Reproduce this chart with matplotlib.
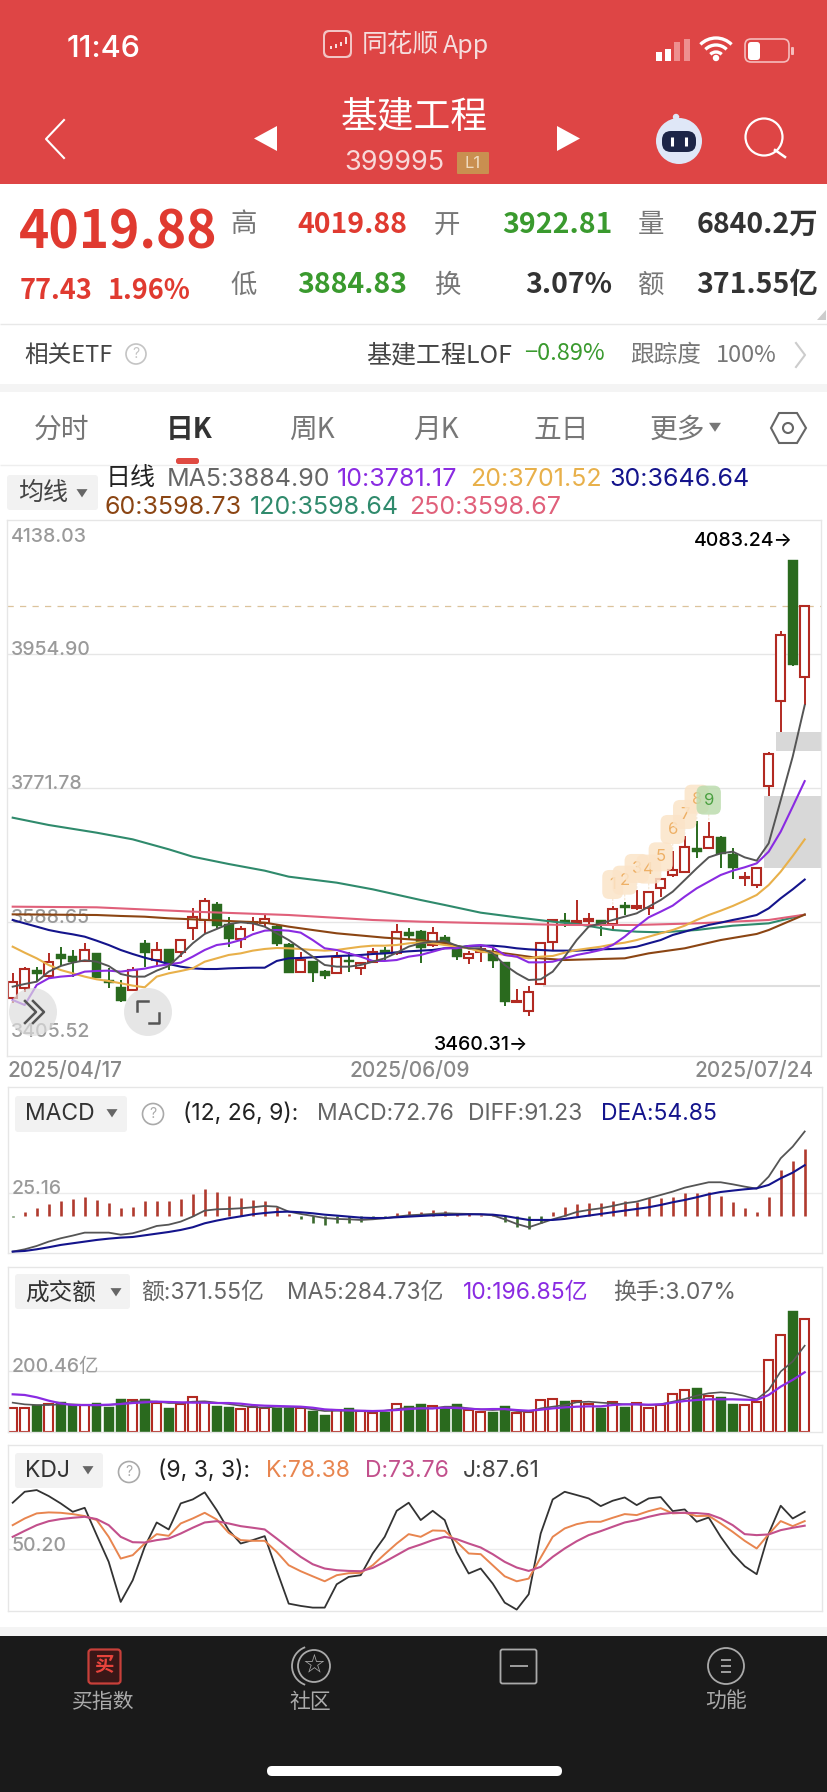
import numpy as np
import matplotlib
matplotlib.use('Agg')
import matplotlib.pyplot as plt
from matplotlib.patches import Rectangle, FancyBboxPatch, Circle, Polygon, Arc

plt.rcParams['font.family'] = ['Inter', 'Noto Sans CJK SC', 'DejaVu Sans']
NOTO = ['Noto Sans CJK SC', 'DejaVu Sans']

# K线数据
opens = [3484.4, 3498, 3523, 3514.9, 3544.9, 3542.7, 3535.4, 3545.8, 3509.4, 3499.4, 3495.7, 3559.5, 3536.7, 3551.8, 3547.2, 3580, 3591.4,
         3613.2, 3585.9, 3565, 3586.8, 3587.8, 3583.2, 3558.6, 3519.9, 3535.4, 3521.2, 3518.5, 3536.3, 3525.3, 3534.4, 3550.4, 3546.7, 3575.4,
         3576.8, 3557.2, 3567.7, 3554.9, 3539, 3547.7, 3548.1, 3533.5, 3478.9, 3467.1, 3503.9, 3560.9, 3591.4, 3587.3, 3589.6, 3591.4, 3585.9,
         3611.9, 3607.3, 3607.3, 3634.7, 3652.9, 3657, 3689.8, 3689.3, 3705.3, 3681.1, 3648.8, 3639.2, 3775, 3890.2, 4083.24, 3922.81]
closes = [3506.2, 3524, 3517.1, 3534.4, 3538.1, 3534, 3550.4, 3511.7, 3504.8, 3480.7, 3523, 3545.8, 3550.4, 3529.9, 3564, 3596, 3617.4,
          3583.6, 3565.4, 3578.6, 3589.1, 3592.3, 3558.6, 3518.5, 3536.7, 3519.4, 3515.3, 3541.3, 3533.5, 3532.6, 3548.1, 3544.9, 3574.5, 3570,
          3553.6, 3573.2, 3559.5, 3541.3, 3544.9, 3551.3, 3535.8, 3479.8, 3481.2, 3493.5, 3560.4, 3591.4, 3586.8, 3590.5, 3593.2, 3585.5, 3606,
          3607.3, 3610.5, 3630.1, 3647, 3659.7, 3691.6, 3684.3, 3705.3, 3681.1, 3662.9, 3650.6, 3662, 3818.2, 3981.3, 3939.9, 4019.88]
highs = [3519.4, 3527.6, 3527.6, 3545.8, 3554.9, 3550.4, 3560.4, 3545.8, 3525.4, 3509.4, 3527.6, 3564, 3561.8, 3551.8, 3565, 3607.3, 3621,
         3615.5, 3595, 3583.2, 3596, 3599.6, 3584.6, 3559.5, 3547.7, 3535.8, 3523, 3548.1, 3548.1, 3534.4, 3552.7, 3554, 3585.9, 3580,
         3577.7, 3582.3, 3570.9, 3556.3, 3549, 3557.2, 3557.2, 3534.4, 3496.6, 3501.7, 3560.4, 3591.4, 3600.5, 3618.7, 3600.5, 3591.4, 3610.5,
         3616.4, 3632.4, 3631.5, 3648.3, 3685.7, 3706.2, 3727.1, 3725.8, 3706.6, 3689.3, 3657.4, 3663.4, 3821.4, 3986.8, 4083.24, 4019.88]
lows = [3478.4, 3493.5, 3507.1, 3511.7, 3528.5, 3514, 3534.4, 3511.7, 3498, 3479.8, 3494.4, 3526.7, 3529.9, 3523, 3541.3, 3564, 3573.2,
        3580, 3554.9, 3552.7, 3576.8, 3582.3, 3556.3, 3518.5, 3519.4, 3506.2, 3510.8, 3517.6, 3519.9, 3516.2, 3533.1, 3536.7, 3543.6, 3564,
        3533.1, 3554.9, 3556.3, 3536.7, 3531.3, 3534.4, 3526.2, 3474.3, 3478.4, 3460.31, 3503.9, 3549.5, 3581.4, 3583.6, 3585.9, 3570, 3576.8,
        3598.2, 3605, 3598.7, 3622.4, 3650.6, 3656.1, 3675.7, 3688.4, 3662.4, 3647, 3638.3, 3635.6, 3761.3, 3848.8, 3939, 3884.83]

# 均线
ma5 = [3500.3, 3503.9, 3507.1, 3520.8, 3528.5, 3533.1, 3536.3, 3534.4, 3528.5, 3517.6, 3514, 3514, 3522.2, 3528.5, 3543.6, 3559.5, 3572.3,
       3579.1, 3585.9, 3588.2, 3586.8, 3582.3, 3573.2, 3564, 3552.7, 3541.3, 3529.9, 3527.6, 3527.6, 3529.9, 3534.4, 3539, 3546.7, 3555,
       3559.5, 3561.8, 3562.7, 3556.3, 3552.7, 3552.7, 3545.8, 3529.9, 3518.5, 3509.4, 3510.3, 3520.8, 3541.3, 3564, 3582.3, 3586.8, 3591.4,
       3596, 3600.5, 3609.6, 3618.7, 3630.1, 3646, 3662, 3677, 3682.5, 3684.8, 3677, 3672.5, 3696.2, 3755, 3814.6, 3884.9]
ma10 = [3482.1, 3475.2, 3502.6, 3511.7, 3514, 3515.3, 3520.8, 3521.7, 3522.2, 3520.8, 3523, 3524.9, 3528.5, 3530.8, 3533.1, 3541.3, 3550.4,
        3557.2, 3559.5, 3564, 3571.8, 3576.8, 3577.7, 3576.8, 3574.1, 3564, 3552.7, 3550.4, 3545.8, 3541.3, 3535.4, 3535.4, 3536.7, 3541.3,
        3543.6, 3548.1, 3552.7, 3552.7, 3555.9, 3557.2, 3554, 3543.6, 3541.3, 3533.5, 3533.5, 3534.4, 3539, 3543.6, 3546.7, 3550.4, 3557.2,
        3568.6, 3582.3, 3595, 3602.8, 3611, 3623.3, 3634.7, 3643.8, 3652.9, 3658.8, 3663.4, 3668.8, 3684.8, 3712.1, 3746.3, 3781.17]
ma20 = [3554.9, 3546.7, 3539, 3529.9, 3523, 3518.5, 3514, 3510.3, 3508, 3504.9, 3501.7, 3499.4, 3514, 3518.5, 3521.7, 3525.3, 3534.4,
        3539, 3543.6, 3545.8, 3549.5, 3551.8, 3553.1, 3552.7, 3551.8, 3550.4, 3549.5, 3550.4, 3552.7, 3554.9, 3556.3, 3556.3, 3557.2, 3559.5,
        3560.9, 3559.5, 3557.2, 3554.9, 3552.7, 3548.1, 3546.7, 3543.6, 3541.3, 3539, 3541.3, 3542.2, 3546.7, 3550.4, 3552.7, 3554.9, 3558.1,
        3560.4, 3564, 3568.6, 3573.2, 3577.7, 3583.6, 3591.4, 3598.2, 3604.1, 3610.5, 3617.8, 3625.6, 3639.2, 3657.4, 3678.8, 3701.52]
ma30 = [3591.4, 3586.8, 3582.3, 3577.7, 3574.5, 3571.8, 3568.6, 3563.1, 3557.2, 3550.4, 3544.9, 3539.9, 3535.8, 3531.3, 3527.6, 3525.3, 3524.4,
        3524.4, 3525.3, 3525.8, 3526.2, 3526.2, 3535.4, 3539, 3539.5, 3540.4, 3541.3, 3542.2, 3542.7, 3543.6, 3544.9, 3545.8, 3547.2, 3548.6,
        3549.5, 3550.4, 3552.7, 3553.6, 3555.9, 3556.3, 3556.3, 3554.9, 3552.7, 3551.3, 3550.4, 3549.5, 3549.5, 3549.5, 3550.4, 3551.3, 3551.8,
        3552.7, 3554.9, 3559.5, 3564, 3570.9, 3575.4, 3580, 3584.6, 3587.8, 3591.4, 3594.6, 3598.2, 3607.3, 3621, 3633.3, 3646.64]
ma60_idx = [0, 7, 9, 11, 13, 15, 18, 21, 23, 25, 27, 31, 34, 36, 38, 40, 42, 44, 46, 51, 53, 56, 59, 62, 63, 66]
ma60 = [3599.1, 3598.2, 3596.9, 3595.9, 3593.7, 3592.3, 3590, 3587.8, 3582.3, 3577.7, 3573.2, 3567.2, 3564, 3559.5, 3552.7, 3548.1, 3543.6,
        3539, 3536.7, 3539, 3545.8, 3552.7, 3564, 3572.3, 3577.7, 3598.73]
ma120_idx = [0, 3, 7, 10, 13, 15, 18, 21, 23, 27, 30, 34, 36, 39, 42, 45, 47, 50, 52, 54, 57, 60, 63, 66]
ma120 = [3731.2, 3721.2, 3710.7, 3701.6, 3688, 3677.9, 3667.9, 3658.8, 3650.6, 3642.4, 3633.3, 3618.7, 3611.9, 3601.4, 3595, 3589.1, 3585.9,
         3577.7, 3575.4, 3574.5, 3577.7, 3583.6, 3586.8, 3598.64]
ma250_idx = [0, 7, 15, 23, 30, 34, 46, 52, 57, 63, 66]
ma250 = [3609.6, 3608.7, 3602.8, 3598.2, 3591.4, 3589.1, 3584.6, 3584.6, 3586.8, 3591.4, 3598.67]

# 九转序列
td_idx = [50, 51, 52, 53, 54, 55, 56, 57, 58]
td_num = ['1', '2', '3', '4', '5', '6', '7', '8', '9']

# MACD
macd_bar = [-1.5, 4.7, 8.3, 13, 16.6, 18, 20.9, 17.3, 13.7, 8.6, 10, 16.6, 16.6, 15.8, 18.4, 23.8, 28.8, 26.3, 21.6, 19, 17.3, 16.2, 10, 2.2,
            -3.2, -7.2, -9.7, -7.9, -7.2, -6.1, -3.6, -2.5, 2.9, 5.4, 4.7, 6.5, 5.8, 2.2, 1.8, 1.4, 0.7, -6.1, -12.2, -14.4, -7.9, 4.7, 9.4,
            13, 14.4, 14.4, 16.2, 16.6, 15.5, 19, 19, 20.9, 24.5, 24.5, 26.3, 21.6, 15.1, 8.6, 4.7, 20.9, 49.7, 59.4, 72.76]
diff = [-38.5, -36, -32.4, -27.7, -24.1, -21.2, -18, -18, -18, -20.2, -18.7, -15.1, -10.8, -9.4, -6.1, -0.7, 5.8, 7.2, 7.6, 8.3, 9.4, 10.8,
        10.1, 4.7, 2.2, 0, -2.2, -3.2, -3.6, -4.3, -3.6, -2.5, -0.7, 0.7, 1.4, 2.2, 2.9, 2.5, 2.2, 1.8, 0.7, -3.6, -8.6, -12.2, -7.9, -3.6, 0,
        4.3, 6.5, 8.3, 10.8, 13.7, 15.5, 19.1, 22.7, 26.3, 30.6, 33.5, 36.4, 36.4, 34.2, 31.7, 29.5, 42.5, 62.3, 74.9, 91.23]
dea = [-38.5, -37.8, -36, -33.8, -31.3, -29.5, -27.7, -25.9, -24.5, -23.4, -22.7, -20.9, -19.1, -17.3, -15.1, -12.2, -7.9, -5, -2.5, -0.4,
       1.8, 3.2, 4.3, 4.7, 4, 2.9, 1.4, 0.4, -0.7, -1.8, -2.2, -2.2, -1.4, -0.7, 0, 0.7, 1.1, 1.4, 1.8, 1.8, 1.4, 0, -2.2, -4.3, -4.3, -4.3,
       -3.2, -1.4, 0.4, 2.2, 4, 5.8, 7.6, 9.4, 11.9, 14.8, 17.3, 20.2, 23.4, 25.9, 27.4, 28.8, 29.9, 33.5, 40.7, 46.8, 54.85]

# 成交额（亿）
amount = [79.7, 79.7, 88.6, 90.8, 99.7, 88.6, 88.6, 96.4, 80.8, 107.4, 105.2, 108.5, 94.1, 79.7, 90.8, 114.1, 97.5, 85.3, 83.1, 75.3, 83.1,
          79.7, 77.5, 77.5, 77.5, 68.7, 55.4, 72, 79.7, 68.7, 63.1, 66.5, 93, 84.2, 91.9, 86.4, 77.5, 90.8, 72, 64.2, 66.5, 84.2, 60.9, 64.2,
          106.3, 108.5, 101.9, 103, 90.8, 79.7, 99.7, 80.8, 94.1, 79.7, 88.6, 126.3, 138.4, 146.2, 119.6, 115.2, 93, 88.6, 97.5, 238.1, 319,
          400.9, 371.55]
amount_ma5 = [96.4, 90.8, 88.6, 88.6, 90.8, 90.8, 88.6, 86.4, 88.6, 93, 99.7, 101.9, 99.7, 95.2, 95.2, 99.7, 100.8, 96.4, 91.9, 86.4, 82, 79.7,
              83.1, 82, 80.8, 74.2, 68.7, 69.8, 69.8, 68.7, 66.5, 69.8, 75.3, 79.7, 77.5, 77.5, 83.1, 83.1, 77.5, 74.2, 72, 74.2, 68.7, 66.5,
              77.5, 83.1, 88.6, 97.5, 99.7, 96.4, 94.1, 90.8, 90.8, 88.6, 90.8, 99.7, 108.5, 119.6, 127.4, 130.7, 127.4, 118.5, 107.4, 138.4,
              199.4, 232.6, 284.73]
amount_ma10 = [124, 121.8, 114.1, 103, 94.1, 88.6, 88.6, 88.6, 89.7, 91.9, 95.2, 97.5, 99.7, 98.6, 97.5, 96.4, 96.4, 95.2, 95.2, 93, 88.6, 86.4,
               85.3, 84.2, 83.1, 79.7, 74.2, 72, 70.9, 69.8, 68.7, 69.8, 72, 75.3, 77.5, 77.5, 79.7, 78.6, 76.4, 74.2, 75.3, 75.3, 72, 69.8,
               73.1, 77.5, 80.8, 83.1, 84.2, 84.2, 88.6, 90.8, 90.8, 89.7, 90.8, 96.4, 101.9, 105.2, 107.4, 107.4, 107.4, 106.3, 105.2, 121.8,
               149.5, 171.7, 196.85]

# KDJ
k_line = [74.3, 81, 86.1, 87.1, 86.7, 85.4, 83.4, 79.4, 62.6, 40.8, 44.2, 55.9, 65.3, 63.6, 76, 81, 86.7, 80, 66.6, 59.3, 58.6, 58.6, 47.5,
          34.1, 28.1, 23, 18, 24.1, 26.1, 26.4, 34.1, 45.2, 55.9, 65.3, 62.6, 69, 68.6, 57.6, 45.9, 45.2, 34.1, 23, 18, 20.7, 41.8, 62.6, 71,
          75.3, 77.7, 77.7, 81.7, 85.4, 84.4, 88.4, 91.4, 86.1, 86.7, 83.4, 83.7, 76, 67.6, 58.6, 50.9, 65.3, 78.4, 73.3, 78.38]
d_line = [62.6, 68.6, 74.3, 78.3, 80.4, 81.7, 82.7, 80.4, 74.3, 62.6, 57.2, 56.9, 59.3, 60.9, 65.9, 71.7, 77, 78.3, 76, 73.3, 71.7, 70, 60.9,
          51.5, 42.5, 35.1, 30.8, 29.1, 28.4, 28.1, 31.4, 37.5, 44.2, 50.9, 54.9, 59.3, 62.6, 60.3, 55.9, 51.9, 45.2, 37.5, 31.8, 28.4, 32.5,
          42.5, 50.9, 58.2, 64.3, 68.3, 72.7, 77, 79.4, 82.7, 85.4, 86.7, 86.7, 86.4, 85.4, 81, 74.3, 65.3, 64.3, 65, 69.3, 71.7, 73.76]
j_line = [96.8, 107.8, 109.5, 103.5, 96.1, 87.7, 91.7, 64.3, 37.5, -2.7, 19, 52.5, 77, 70, 96.1, 100.1, 107.2, 89.4, 69.3, 55.9, 59.3, 63.3,
          29.1, -4.4, -6.7, -8.4, -8.4, 15, 22.4, 24.1, 45.9, 62.6, 88.7, 96.8, 79.4, 88.7, 79.4, 47.5, 25.8, 30.8, 15.7, -3.4, -10.4, 5, 65.9,
          100.1, 107.8, 104.5, 101.1, 93.4, 98.8, 102.1, 94.4, 101.1, 102.5, 88.4, 90.1, 77.7, 82, 62.6, 45.9, 33.1, 25.1, 65.9, 93.8, 81, 87.61]

price_ticks = [4138.03, 3954.90, 3771.78, 3588.65, 3405.52]
dates = ['2025/04/17', '2025/06/09', '2025/07/24']

W, H = 828, 1792
RED, GREEN = '#b22a22', '#2a6a1e'
days = np.arange(len(closes))
up = np.array(closes) >= np.array(opens)

fig = plt.figure(figsize=(W / 100, H / 100), dpi=100, facecolor='white')


def panel(x0, y0, x1, y1, ymin, ymax):
    # 按像素位置放子图，所有子图共用同一套K线间距
    ax = fig.add_axes([x0 / W, 1 - y1 / H, (x1 - x0) / W, (y1 - y0) / H])
    ax.set_xlim((x0 - 12.7) / 12, (x1 - 12.7) / 12)
    ax.set_ylim(ymin, ymax)
    ax.set_xticks([])
    ax.set_yticks([])
    for s in ax.spines.values():
        s.set_color('#e6e6e6')
        s.set_linewidth(1.0)
    return ax


def draw_bars(ax, bottoms, tops, width=0.72):
    # 红空心绿实心
    for i in days:
        if up[i]:
            ax.bar(i, tops[i] - bottoms[i], bottom=bottoms[i], width=width, facecolor='white',
                   edgecolor=RED, linewidth=1.5, zorder=2)
        else:
            ax.bar(i, tops[i] - bottoms[i], bottom=bottoms[i], width=width + 0.08, facecolor=GREEN,
                   edgecolor=GREEN, linewidth=0.3, zorder=2)


# =============================================
# 主图
# =============================================
ax = panel(7, 520, 821, 1056, 3405.52, 4138.03)
for v in price_ticks[1:-1]:
    ax.axhline(v, color='#e6e6e6', lw=1.0, zorder=0)
ax.axhline(closes[-1], color='#dcc39c', lw=0.9, ls=(0, (5, 5)), zorder=1)
ax.hlines(3501.6, 44.2, 67.3, color='#dedede', lw=1.5, zorder=0)
ax.add_patch(Rectangle((62.6, 3662.9), 6, 97.9, facecolor='#d8d8d8', edgecolor='none', zorder=1))
ax.add_patch(Rectangle((63.6, 3822.8), 5, 25.5, facecolor='#d8d8d8', edgecolor='none', zorder=1))

ax.vlines(days, lows, highs, color=[RED if u else GREEN for u in up], lw=1.4, zorder=1.5)
draw_bars(ax, np.minimum(opens, closes), np.maximum(opens, closes))

ax.plot(ma120_idx, ma120, color='#2f8a6c', lw=1.5, zorder=3)
ax.plot(ma250_idx, ma250, color='#e0607a', lw=1.5, zorder=3)
ax.plot(ma60_idx, ma60, color='#8b4513', lw=1.5, zorder=3)
ax.plot(days, ma30, color='#14148c', lw=1.5, zorder=3)
ax.plot(days, ma20, color='#e8b04a', lw=1.5, zorder=3)
ax.plot(days, ma10, color='#8a2be2', lw=1.5, zorder=3)
ax.plot(days, ma5, color='#555555', lw=1.4, zorder=3)

# 价格刻度
tick_dy = [-12, 3, 3.2, 3, 17.5]
for v, dy in zip(price_ticks, tick_dy):
    ax.annotate('%.2f' % v, xy=(0, v), xycoords=('axes fraction', 'data'), xytext=(2.5, dy), textcoords='offset points',
                color='#9a9a9a', fontsize=14, fontweight='medium', va='center', zorder=1)

# 九转序列
for i, n in zip(td_idx, td_num):
    bg, fg = ('#bcdcae', '#4aa040') if n == '9' else ('#fbe4c8', '#eeb066')
    ax.annotate(n, xy=(i, highs[i]), xytext=(0, 15.5), textcoords='offset points', ha='center', va='center',
                fontsize=12, color=fg, zorder=4,
                bbox=dict(boxstyle='round,pad=0.42', fc=bg, ec='none', alpha=0.85),
                arrowprops=dict(arrowstyle='-', color='#f6e9d8', lw=1, ls=':', shrinkA=0, shrinkB=0))

ax.annotate('4083.24→', xy=(65, 4083.24), xytext=(0, 14), textcoords='offset points', ha='right', va='center',
            fontsize=14, fontweight='medium', color='black', zorder=5)
ax.annotate('3460.31→', xy=(43, 3460.31), xytext=(0, -21), textcoords='offset points', ha='right', va='center',
            fontsize=14, fontweight='medium', color='black', zorder=5)

# =============================================
# MACD
# =============================================
ax2 = panel(8, 1087, 822, 1253, -40, 139.3)
ax2.axhline(25.16, color='#ececec', lw=1.0, zorder=0)
ax2.vlines(days, 0, macd_bar, color=['#b03a2e' if v >= 0 else '#3a6a2e' for v in macd_bar], lw=1.9, zorder=2)
ax2.plot(days, diff, color='#555555', lw=1.3, zorder=3)
ax2.plot(days, dea, color='#14148c', lw=1.5, zorder=3)

# =============================================
# 成交额
# =============================================
ax3 = panel(8, 1267, 822, 1432, -0.6, 200.46 * (1432 - 1267) / (1432 - 1371.3))
ax3.axhline(200.46, color='#e6e6e6', lw=1.0, zorder=0)
draw_bars(ax3, np.zeros(len(amount)), np.array(amount))
ax3.plot(days, amount_ma5, color='#555555', lw=1.2, zorder=3)
ax3.plot(days, amount_ma10, color='#8a2be2', lw=1.6, zorder=3)

# =============================================
# KDJ
# =============================================
ax4 = panel(8, 1445, 822, 1611, -11.8, 154.7)
ax4.axhline(50.20, color='#ececec', lw=1.0, zorder=0)
ax4.plot(days, j_line, color='#333333', lw=1.3, zorder=3)
ax4.plot(days, k_line, color='#e8854f', lw=1.4, zorder=3)
ax4.plot(days, d_line, color='#c2508c', lw=1.5, zorder=3)

# =============================================
# 界面部分（像素坐标）
# =============================================
ui = fig.add_axes([0, 0, 1, 1], zorder=10)
ui.set_xlim(0, W)
ui.set_ylim(H, 0)
ui.axis('off')
ui.patch.set_alpha(0)


def label(x, y, s, size, color='#333333', ha='left', weight='normal', font=None):
    t = ui.text(x, y, s, fontsize=size, color=color, ha=ha, va='center', fontweight=weight, zorder=6)
    if font:
        t.set_fontfamily(font)


def box(x0, y0, x1, y1, color, r=3, z=1):
    ui.add_patch(FancyBboxPatch((x0 + r, y0 + r), x1 - x0 - 2 * r, y1 - y0 - 2 * r, boxstyle='round,pad=%s,rounding_size=%s' % (r, r),
                                facecolor=color, edgecolor='none', zorder=z))


def tri_down(x, y, s=5, color='#666666'):
    ui.add_patch(Polygon([[x - s, y - s * 0.7], [x + s, y - s * 0.7], [x, y + s * 0.8]], facecolor=color, edgecolor='none', zorder=3))


def help_mark(x, y, r=10, color='#aaaaaa'):
    ui.add_patch(Circle((x, y), r, facecolor='none', edgecolor=color, lw=1.2, zorder=3))
    ui.text(x, y, '?', fontsize=10, color=color, ha='center', va='center')


HEAD = '#de4545'
ui.add_patch(Rectangle((0, 0), W, 184, facecolor=HEAD, edgecolor='none', zorder=0))
label(104, 49, '11:46', 22, 'white', 'center', 'medium')
box(323, 30, 352, 58, '#f2c4c4', 6)
box(325, 32, 350, 56, '#d93a3a', 5, 2)
ui.vlines([331, 336, 341, 346], [46, 44, 42, 37], [49, 48, 46, 44], color='white', lw=1.2, zorder=3)
label(362, 45, '同花顺', 18.5, '#f5dddd')
label(443, 46, 'App', 18, '#f5dddd', font=NOTO)

# 状态栏图标
ui.bar([659, 668, 677, 687], [-9, -12, -19, -22], width=6, bottom=61, color=['white', 'white', '#ee8f8f', '#ee8f8f'], zorder=3)
for r in (22, 15, 8):
    ui.add_patch(Arc((716, 60), r * 2, r * 2, theta1=225, theta2=315, color='white', lw=2.4, zorder=3))
ui.add_patch(Circle((716, 58), 2.5, color='white', zorder=3))
ui.add_patch(FancyBboxPatch((746, 40), 42, 21, boxstyle='round,pad=1,rounding_size=6', facecolor='none', edgecolor='#f5bcbc', lw=1.2, zorder=3))
box(748, 42, 760, 60, 'white', 3, 3)
box(791, 47, 794, 55, '#f5bcbc', 1, 3)

label(414, 118, '基建工程', 26.5, 'white', 'center')
label(344, 163, '399995', 19.5, '#f8d9d9')
box(457, 152, 489, 174, '#c98f50', 1)
label(473, 163, 'L1', 12, '#f0dcc0', 'center')
ui.plot([64, 46, 64], [120, 139, 158], color='white', lw=1.5, zorder=3)
ui.add_patch(Polygon([[277, 126], [277, 151], [254, 138.5]], facecolor='white', edgecolor='none', zorder=3))
ui.add_patch(Polygon([[557, 126], [557, 151], [580, 138.5]], facecolor='white', edgecolor='none', zorder=3))
# 机器人 + 搜索
ui.add_patch(Circle((679, 141), 23, facecolor='#dfe7f7', edgecolor='none', zorder=3))
ui.add_patch(FancyBboxPatch((666, 135), 26, 13, boxstyle='round,pad=4,rounding_size=9', facecolor='#1c2547', edgecolor='none', zorder=4))
ui.vlines([672, 686], 137, 146, color='white', lw=2.2, zorder=5)
ui.plot([678, 676], [117, 123], color='#dfe7f7', lw=1.5, zorder=3)
ui.add_patch(Circle((676, 117), 2.5, color='#dfe7f7', zorder=3))
ui.add_patch(Circle((764, 137), 18.5, facecolor='none', edgecolor='white', lw=1.6, zorder=3))
ui.plot([775, 785], [150, 157], color='white', lw=1.8, zorder=3)

# 行情数据
PRICE_RED, PRICE_GREEN = '#e03a30', '#3a9a2e'
label(19, 233, '4019.88', 37, PRICE_RED, weight='bold', font=NOTO)
label(20, 291, '77.43', 19.5, PRICE_RED, weight='bold', font=NOTO)
label(108, 291, '1.96%', 19.5, PRICE_RED, weight='bold', font=NOTO)
for name, x, y in [('高', 230, 225), ('低', 230, 285), ('开', 434, 225), ('换', 434, 285), ('量', 638, 225), ('额', 638, 285)]:
    label(x, y, name, 19, '#777777', font=NOTO)
label(407, 225, '4019.88', 20.5, PRICE_RED, 'right', 'bold', NOTO)
label(407, 285, '3884.83', 20.5, PRICE_GREEN, 'right', 'bold', NOTO)
label(612, 225, '3922.81', 20.5, PRICE_GREEN, 'right', 'bold', NOTO)
label(612, 285, '3.07%', 20.5, '#333333', 'right', 'bold', NOTO)
label(818, 225, '6840.2万', 20.5, '#333333', 'right', 'bold', NOTO)
label(818, 285, '371.55亿', 20.5, '#333333', 'right', 'bold', NOTO)
ui.add_patch(Polygon([[826, 310], [826, 320], [817, 320]], facecolor='#cccccc', edgecolor='none', zorder=3))
ui.hlines(324, 0, W, color='#e8e8e8', lw=1)

label(24, 355, '相关ETF', 17, '#444444', font=NOTO)
help_mark(136, 354, 10, '#c4c4c4')
label(366, 355, '基建工程LOF', 18, '#444444', font=NOTO)
label(524, 354, '−0.89%', 17, PRICE_GREEN, font=NOTO)
label(630, 355, '跟踪度', 17, '#777777', font=NOTO)
label(716, 355, '100%', 17, '#777777', font=NOTO)
ui.plot([796, 805, 796], [343, 355, 367], color='#cccccc', lw=1.5)
ui.add_patch(Rectangle((0, 384), W, 8, facecolor='#f4f4f4', edgecolor='none'))

# 周期切换
tab_names = ['分时', '日K', '周K', '月K', '五日', '更多']
tab_x = [62, 189, 312, 436, 561, 677]
for name, x in zip(tab_names, tab_x):
    on = name == '日K'
    label(x, 430, name, 20, '#333333' if on else '#777777', 'center', 'bold' if on else 'normal', NOTO)
tri_down(715, 427, 6, '#777777')
ui.add_patch(Polygon([[771, 428], [779, 413], [797, 413], [806, 428], [797, 443], [779, 443]], facecolor='none', edgecolor='#666666', lw=1.5))
ui.add_patch(Circle((788, 428), 5, facecolor='none', edgecolor='#666666', lw=1.5))
box(176, 458, 199, 464, '#e04a42', 2.5)
ui.hlines(465, 0, W, color='#eeeeee', lw=1)

# 均线图例
box(7, 475, 98, 510, '#f2f2f2', 3)
label(18, 493, '均线', 18, '#444444', font=NOTO)
tri_down(82, 493, 5.5)
label(106, 478, '日线', 18, '#222222', font=NOTO)
label(167, 479, 'MA5:3884.90', 18, '#666666')
label(337, 479, '10:3781.17', 18, '#8a2be2')
label(470, 479, '20:3701.52', 18, '#e8b04a')
label(609, 479, '30:3646.64', 18, '#14148c')
label(105, 507, '60:3598.73', 18, '#8b4513')
label(250, 507, '120:3598.64', 18, '#2f8a6c')
label(409, 507, '250:3598.67', 18, '#e0607a')

# 日期
label(8, 1071, dates[0], 15, '#888888', 'left', 'medium')
label(410, 1071, dates[1], 15, '#888888', 'center', 'medium')
label(814, 1071, dates[2], 15, '#888888', 'right', 'medium')

# 悬浮按钮
ui.add_patch(Circle((33, 1012), 24, facecolor='#dddddd', edgecolor='none', alpha=0.7, zorder=4))
ui.plot([25, 36, 25], [1001, 1012, 1023], color='#555555', lw=1.8, zorder=5)
ui.plot([33, 44, 33], [1001, 1012, 1023], color='#555555', lw=1.8, zorder=5)
ui.add_patch(Circle((148, 1012), 24, facecolor='#e4e4e4', edgecolor='none', alpha=0.9, zorder=4))
ui.plot([137, 137, 148], [1011, 1001, 1001], color='#555555', lw=1.8, zorder=5)
ui.plot([159, 159, 149], [1013, 1023, 1023], color='#555555', lw=1.8, zorder=5)

# MACD 标题
box(15, 1096, 127, 1132, '#f2f2f2', 3)
label(25, 1114, 'MACD', 16.5, '#333333')
tri_down(112, 1113, 5.5)
help_mark(153, 1114, 10.5)
label(183, 1114, '(12, 26, 9):', 16.5, '#222222')
label(317, 1114, 'MACD:72.76', 16.5, '#666666')
label(468, 1114, 'DIFF:91.23', 16.5, '#666666')
label(601, 1114, 'DEA:54.85', 16.5, '#14148c')
label(12, 1189, '25.16', 14, '#9a9a9a', weight='medium')

# 成交额 标题
box(15, 1274, 130, 1309, '#f2f2f2', 3)
label(25, 1293, '成交额', 17, '#333333', font=NOTO)
tri_down(116, 1292, 5.5)
label(141, 1293, '额:371.55亿', 16.5, '#666666')
label(287, 1293, 'MA5:284.73亿', 16.5, '#666666')
label(463, 1293, '10:196.85亿', 16.5, '#8a2be2')
label(613, 1293, '换手:3.07%', 16.5, '#666666')
label(12, 1367, '200.46亿', 14, '#9a9a9a', weight='medium')

# KDJ 标题
box(15, 1453, 103, 1488, '#f2f2f2', 3)
label(25, 1471, 'KDJ', 16.5, '#333333')
tri_down(88, 1470, 5.5)
help_mark(129, 1472, 10.5)
label(158, 1471, '(9, 3, 3):', 16.5, '#222222')
label(266, 1471, 'K:78.38', 16.5, '#e8854f')
label(365, 1471, 'D:73.76', 16.5, '#c2508c')
label(463, 1471, 'J:87.61', 16.5, '#444444')
label(12, 1546, '50.20', 14, '#9a9a9a', weight='medium')

# 底部导航
ui.add_patch(Rectangle((0, 1627), W, 9, facecolor='#f4f4f4', edgecolor='none'))
ui.add_patch(Rectangle((0, 1636), W, 156, facecolor='#1a1a1a', edgecolor='none'))
ui.add_patch(FancyBboxPatch((90, 1651), 29, 31, boxstyle='round,pad=1.5,rounding_size=3', facecolor='#3a1717', edgecolor='#c8403a', lw=1.6, zorder=3))
label(104.5, 1666, '买', 14, '#e8443c', 'center', 'bold', NOTO)
label(103, 1702, '买指数', 15, '#aaaaaa', 'center', font=NOTO)
ui.add_patch(Circle((314, 1666), 16, facecolor='none', edgecolor='#aaaaaa', lw=1.3, zorder=3))
ui.add_patch(Arc((312, 1666), 40, 40, theta1=110, theta2=250, color='#aaaaaa', lw=1.3, zorder=3))
label(314, 1665, '☆', 15, '#aaaaaa', 'center', font=NOTO)
label(310, 1702, '社区', 15, '#aaaaaa', 'center', font=NOTO)
ui.add_patch(FancyBboxPatch((501, 1650), 35, 33, boxstyle='round,pad=0.5,rounding_size=2', facecolor='none', edgecolor='#aaaaaa', lw=1.3, zorder=3))
ui.hlines(1666, 510, 528, color='#aaaaaa', lw=1.3, zorder=3)
ui.add_patch(Circle((726, 1666), 18, facecolor='none', edgecolor='#aaaaaa', lw=1.3, zorder=3))
ui.hlines([1660, 1666, 1672], 721, 731, color='#aaaaaa', lw=1.3, zorder=3)
label(726, 1702, '功能', 15, '#aaaaaa', 'center', font=NOTO)
box(267, 1766, 562, 1776, 'white', 5, 3)

fig.savefig('out.png', dpi=100)
